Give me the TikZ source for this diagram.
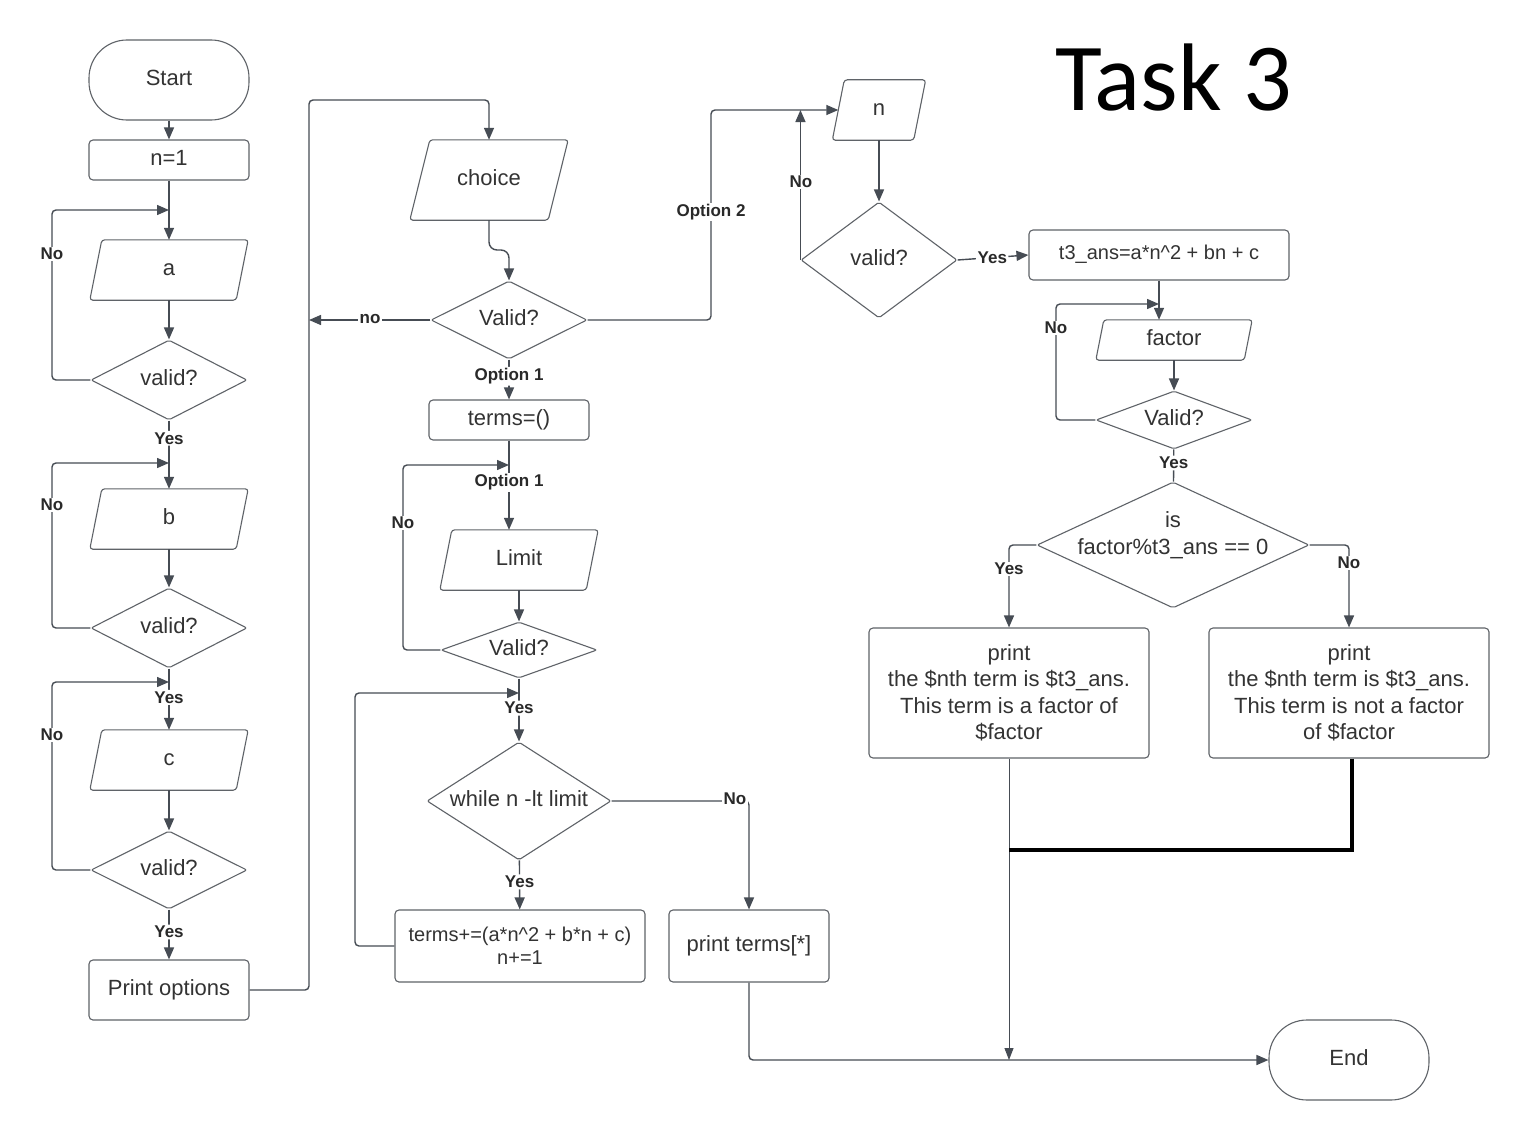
\documentclass[tikz,border=0pt]{standalone}
\usepackage{fontspec}
\setmainfont{Liberation Sans}
\newfontfamily\titlefont{Carlito}
\usetikzlibrary{shapes.geometric,arrows.meta,calc}
\definecolor{lnc}{RGB}{70,76,84}
\definecolor{shc}{RGB}{95,99,104}
\definecolor{txc}{RGB}{51,51,51}
\newcommand\drawio[2]{\draw[shp] ([xshift=#2]#1.north west) -- (#1.north east) -- ([xshift=-#2]#1.south east) -- (#1.south west) -- cycle;}
\begin{document}
\begin{tikzpicture}[x=1pt,y=-1pt,
 base/.style={draw=none, inner sep=0pt, text=txc, font=\fontsize{22}{26.5}\selectfont, align=center},
 sl/.style={text height=16pt, text depth=6pt},
 proc/.style={base, draw=shc, line width=1.1pt, rounded corners=4pt, rectangle},
 term/.style={base, sl, draw=shc, line width=1.1pt, rounded corners=38pt, rectangle},
 io/.style={base, sl, rectangle},
 dec/.style={base, diamond, draw=shc, line width=1.1pt, rounded corners=2pt},
 conn/.style={draw=lnc, line width=1.4pt, rounded corners=4pt},
 arr/.style={conn, -{Triangle[length=12pt,width=10pt]}},
 lbl/.style={fill=white, inner sep=1.5pt, text=txc!80!black, font=\bfseries\fontsize{17}{20}\selectfont},
 shp/.style={draw=shc, line width=1.1pt, rounded corners=3pt}]
\fill[white] (0,0) rectangle (1529,1140);
\useasboundingbox (0,0) rectangle (1529,1140);

% title
\node[text=black, font=\titlefont\fontsize{96}{100}\selectfont, inner sep=0pt] (title) at (1174,78) {Task 3};

% left column
\node[term, minimum width=160, minimum height=80] (start) at (169,80) {Start};
\node[proc, sl, minimum width=160, minimum height=40] (n1) at (169,160) {n=1};
\node[io, minimum width=158, minimum height=60] (a) at (169,270) {a};
\node[dec, sl, minimum width=156, minimum height=80, aspect=1.95] (va) at (169,380) {valid?};
\node[io, minimum width=158, minimum height=60] (b) at (169,519) {b};
\node[dec, sl, minimum width=156, minimum height=80, aspect=1.95] (vb) at (169,628) {valid?};
\node[io, minimum width=158, minimum height=60] (c) at (169,760) {c};
\node[dec, sl, minimum width=156, minimum height=78, aspect=2] (vc) at (169,870) {valid?};
\node[proc, sl, minimum width=160, minimum height=60] (po) at (169,990) {Print options};

% middle column
\node[io, minimum width=158, minimum height=80] (choice) at (489,180) {choice};
\node[dec, sl, minimum width=156, minimum height=78, aspect=2] (v1) at (509,320) {Valid?};
\node[proc, sl, minimum width=160, minimum height=40] (terms) at (509,420) {terms=()};
\node[io, minimum width=158, minimum height=60] (limit) at (519,560) {Limit};
\node[dec, sl, minimum width=156, minimum height=56, aspect=2.79] (v2) at (519,650) {Valid?};
\node[dec, sl, minimum width=184, minimum height=118, aspect=1.56] (wh) at (519,801) {while n -lt limit};
\node[proc, minimum width=250, minimum height=72, font=\fontsize{20}{23}\selectfont] (tp) at (520,946) {terms+=(a*n\^{}2 + b*n + c)\\n+=1};
\node[proc, sl, minimum width=160, minimum height=72] (pt) at (749,946) {print terms[*]};
\node[term, minimum width=160, minimum height=80] (end) at (1349,1060) {End};

% right part
\node[io, minimum width=93, minimum height=60] (n) at (879,110) {n};
\node[dec, sl, minimum width=156, minimum height=116, aspect=1.345] (v3) at (879,260) {valid?};
\node[proc, minimum width=260, minimum height=50, font=\fontsize{20}{23}\selectfont, text height=14.5pt, text depth=5pt] (t3) at (1159,255) {t3\_ans=a*n\^{}2 + bn + c};
\node[io, minimum width=156, minimum height=40] (factor) at (1174,340) {factor};
\node[dec, sl, minimum width=156, minimum height=58, aspect=2.69] (v4) at (1174,420) {Valid?};
\node[dec, minimum width=272, minimum height=126] (isd) at (1173,545) {};
\node[base] (isdt) at (1173,535) {is\\factor\%t3\_ans == 0};
\node[proc, minimum width=280, minimum height=130] (box1) at (1009,693) {print\\the \$nth term is \$t3\_ans.\\This term is a factor of\\\$factor};
\node[proc, minimum width=280, minimum height=130] (box2) at (1349,693) {print\\the \$nth term is \$t3\_ans.\\This term is not a factor\\of \$factor};

% parallelogram outlines
\drawio{a}{12}
\drawio{b}{12}
\drawio{c}{12}
\drawio{choice}{20}
\drawio{limit}{12}
\drawio{n}{12}
\drawio{factor}{8}

% junction coordinates
\coordinate (ja) at (169,210);
\coordinate (jb) at (169,463);
\coordinate (jc) at (169,682);
\coordinate (jno) at (309,320);
\coordinate (jt) at (509,465);
\coordinate (jw) at (519,693);
\coordinate (jf) at (1159,304);

% left column connectors
\draw[arr] (start) -- (n1);
\draw[arr] (n1) -- (a);
\draw[arr] (a) -- (va);
\draw[arr] (va) -- node[lbl, pos=0.26] {Yes} (b);
\draw[arr] (b) -- (vb);
\draw[arr] (vb) -- node[lbl, pos=0.47] {Yes} (c);
\draw[arr] (c) -- (vc);
\draw[arr] (vc) -- node[lbl, pos=0.45] {Yes} (po);
\draw[arr] (va.west) -| (52,210) -- (ja);
\draw[arr] (vb.west) -| (52,463) -- (jb);
\draw[arr] (vc.west) -| (52,682) -- (jc);
\node[lbl] (la) at (52,254) {No};
\node[lbl] (lb) at (52,505) {No};
\node[lbl] (lc) at (52,735) {No};

% to choice
\draw[arr] (po.east) -| (309,100) -| (choice.north);
\draw[arr, rounded corners=8pt] (choice.south) -- (489,250) -- (509,250) -- (v1.north);
\draw[arr] (v1.west) -- (jno);
\node[lbl] (lno) at (370,319) {no};
\draw[arr] (v1.east) -| (711,110) -- ([xshift=6]n.west);
\node[lbl] (lo2) at (711,212) {Option 2};
\draw[arr] (v1) -- node[lbl, pos=0.42] {Option 1} (terms);
\draw[arr] (terms.south) -- node[lbl, pos=0.47] {Option 1} (terms.south |- limit.north);
\draw[arr] (v2.west) -| (403,465) -- (jt);
\node[lbl] (lt) at (403,523) {No};
\draw[arr] (limit) -- (v2);
\draw[arr] (v2) -- node[lbl, pos=0.47] {Yes} (wh);
\draw[arr] (tp.west) -| (355,693) -- (jw);
\draw[arr] (wh) -- node[lbl, pos=0.44] {Yes} (tp);
\draw[arr] (wh.east) -| (pt.north);
\node[lbl] (lwn) at (735,799) {No};
\draw[arr] (pt.south) |- (end.west);

% right part connectors
\draw[arr] (n) -- (v3);
\draw[arr, rounded corners=0pt] (v3.west) -- (v3.west |- n.west);
\node[lbl] (l3n) at (801,182) {No};
\draw[arr] (v3.east) -- node[lbl, pos=0.49] {Yes} (t3.west);
\draw[arr] (t3.south) -- (t3.south |- factor.north);
\draw[arr] (v4.west) -| (1056,304) -- (jf);
\node[lbl] (l4n) at (1056,328) {No};
\draw[arr] (factor) -- (v4);
\draw[conn] (v4) -- node[lbl, pos=0.42] {Yes} (isd);
\draw[arr] (isd.west) -| (box1.north);
\node[lbl] (ly) at (1009,569) {Yes};
\draw[arr] (isd.east) -| (box2.north);
\node[lbl] (lnn) at (1349,563) {No};
\draw[draw=lnc, line width=1pt, -{Triangle[length=12pt,width=9pt]}] (box1.south) -- (box1.south |- end.west);
\draw[black, line width=4pt] ([xshift=3pt]box2.south) |- ($(box1.south)+(0,91)$);
\end{tikzpicture}
\end{document}
